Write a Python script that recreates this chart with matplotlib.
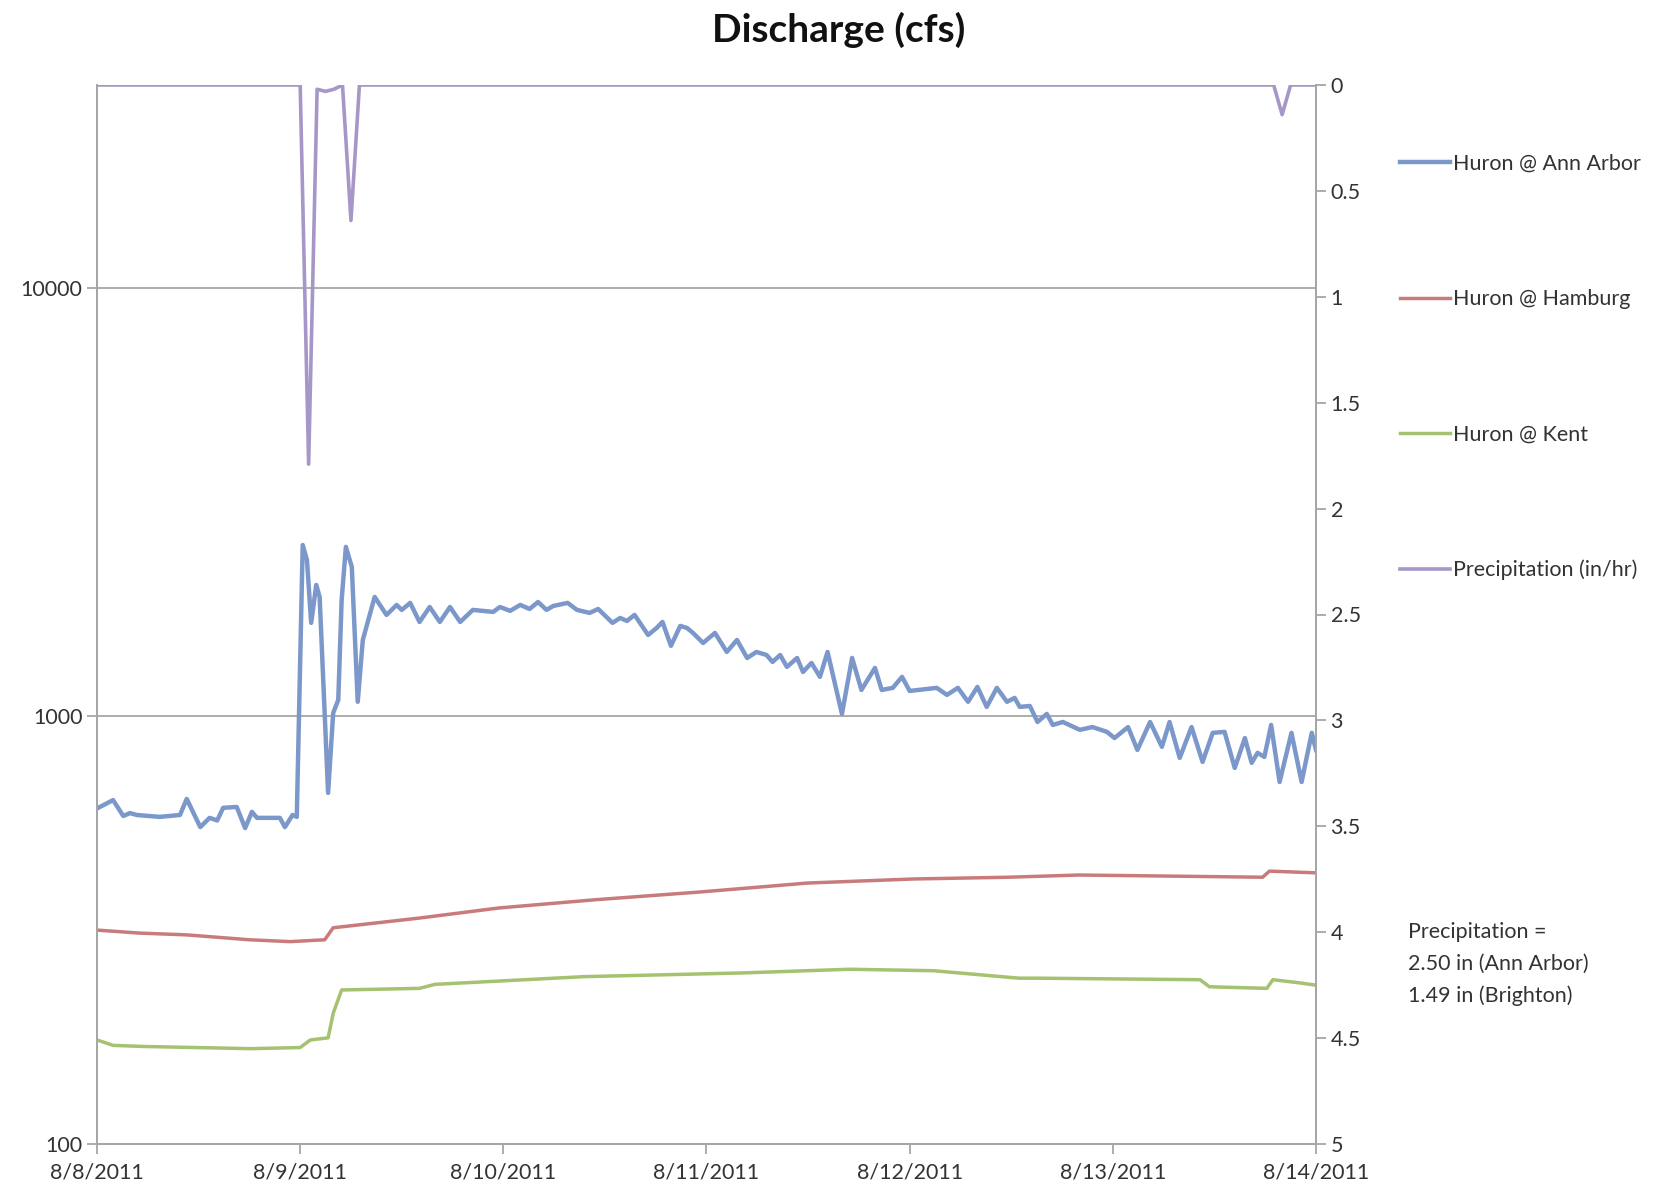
import matplotlib
matplotlib.use("Agg")
import matplotlib.pyplot as plt

plt.rcParams['font.family'] = ['Lato', 'DejaVu Sans']

# hours since 8/8/2011 00:00, discharge in cfs
aa_hours = [0, 1.9, 3.1, 3.9, 4.7, 7.4, 9.8, 10.6, 12.2, 13.3,
            14.2, 14.9, 16.5, 17.5, 18.3, 18.9, 21.6, 22.2, 23.1, 23.6,
            24.3, 24.8, 25.3, 25.9, 26.3, 27.3, 27.9, 28.5, 28.9, 29.4,
            30.1, 30.8, 31.4, 32.8, 34.2, 35.4, 36.0, 37.0, 38.1, 39.3,
            40.5, 41.7, 42.9, 44.4, 46.8, 47.6, 48.8, 50.0, 51.1, 52.1,
            53.1, 53.9, 55.6, 56.7, 58.2, 59.2, 60.9, 61.8, 62.6, 63.5,
            65.1, 66.1, 66.8, 67.8, 68.9, 69.7, 70.4, 71.6, 73.0, 74.4,
            75.6, 76.8, 77.9, 79.1, 79.8, 80.7, 81.5, 82.7, 83.4, 84.4,
            85.4, 86.3, 88.0, 89.2, 90.3, 91.9, 92.7, 94.0, 95.1, 96.0,
            99.2, 100.4, 101.7, 102.9, 104.0, 105.1, 106.3, 107.5, 108.4, 109.0,
            110.2, 111.1, 112.2, 112.9, 114.1, 116.1, 117.6, 119.3, 120.2, 121.8,
            122.9, 124.4, 125.8, 126.7, 127.9, 129.3, 130.6, 131.8, 133.2, 134.4,
            135.6, 136.4, 137.1, 137.9, 138.7, 139.7, 141.1, 142.3, 143.5, 144.0]
aa_cfs = [608, 636, 584, 593, 587, 581, 587, 640, 550, 578,
          570, 610, 613, 547, 597, 578, 578, 550, 587, 581,
          2508, 2315, 1650, 2023, 1897, 661, 1016, 1090, 1866, 2483,
          2229, 1079, 1505, 1897, 1722, 1817, 1769, 1837, 1658, 1797,
          1658, 1797, 1658, 1769, 1750, 1797, 1760, 1817, 1778, 1846,
          1769, 1807, 1837, 1769, 1741, 1778, 1650, 1694, 1667, 1722,
          1546, 1605, 1658, 1458, 1623, 1605, 1563, 1481, 1563, 1411,
          1505, 1366, 1411, 1388, 1337, 1388, 1302, 1366, 1267, 1330,
          1234, 1411, 1011, 1366, 1150, 1295, 1150, 1163, 1234, 1144,
          1163, 1120, 1163, 1079, 1169, 1050, 1163, 1079, 1102, 1050,
          1055, 968, 1011, 953, 968, 928, 942, 918, 888, 942,
          833, 968, 847, 968, 798, 942, 781, 913, 918, 756,
          888, 777, 820, 802, 953, 701, 913, 701, 913, 833]

ham_hours = [0, 5, 10.6, 18, 22.8, 26.9, 27.9, 38, 47.5, 58.8, 71.3, 83.9, 96.4, 107.7, 116, 137.7, 138.5, 144]
ham_cfs = [316, 311, 308, 300, 297, 300, 320, 337, 356, 372, 388, 407, 416, 420, 425, 420, 434, 430]

kent_hours = [0, 1.9, 5.4, 18.1, 24, 25.2, 27.3, 27.9, 28.9, 38.1, 39.9, 57.5,
              76.3, 88.9, 98.8, 108.9, 111, 130.3, 131.4, 138.2, 138.9, 142, 144]
kent_cfs = [175, 170, 169, 167, 168, 175, 177, 202, 229, 231, 236, 246,
            251, 256, 254, 244, 244, 242, 233, 231, 242, 238, 235]

precip_hours = [0, 24, 25, 26, 27, 28, 29, 30, 31, 139, 140, 141, 144]
precip_in = [0, 0, 1.79, 0.02, 0.03, 0.02, 0, 0.64, 0, 0, 0.14, 0, 0]

day_ticks = [0, 24, 48, 72, 96, 120, 144]
day_labels = ['8/8/2011', '8/9/2011', '8/10/2011', '8/11/2011', '8/12/2011', '8/13/2011', '8/14/2011']

c_blue = '#7C98CA'
c_red = '#C97B7B'
c_green = '#A4C270'
c_purple = '#A797C8'
c_axis = '#A6A6A6'
c_text = '#333333'

fig = plt.figure(figsize=(16.65, 11.9), dpi=100)
ax = fig.add_axes([97 / 1665, 1 - 1144 / 1190, (1316 - 97) / 1665, (1144 - 85) / 1190])

l1, = ax.plot(aa_hours, aa_cfs, color=c_blue, lw=3.2, solid_joinstyle='round', label='Huron @ Ann Arbor')
l2, = ax.plot(ham_hours, ham_cfs, color=c_red, lw=2.5, label='Huron @ Hamburg')
l3, = ax.plot(kent_hours, kent_cfs, color=c_green, lw=2.5, label='Huron @ Kent')

ax.set_yscale('log')
ax.set_ylim(100, 10 ** 4.474)
ax.set_xlim(0, 144)
ax.set_yticks([100, 1000, 10000])
ax.set_yticklabels(['100', '1000', '10000'])
ax.minorticks_off()
ax.set_xticks(day_ticks)
ax.set_xticklabels(day_labels)
ax.grid(axis='y', color=c_axis, lw=1.3)
ax.set_axisbelow(True)

ax2 = ax.twinx()
l4, = ax2.plot(precip_hours, precip_in, color=c_purple, lw=2.6, solid_joinstyle='round',
               label='Precipitation (in/hr)')
ax2.set_ylim(5, 0)
ax2.set_yticks([i * 0.5 for i in range(11)])
ax2.set_yticklabels(['%g' % (i * 0.5) for i in range(11)])

for a in (ax, ax2):
    a.spines['top'].set_visible(False)
    for s in ('left', 'right', 'bottom'):
        a.spines[s].set_color(c_axis)
        a.spines[s].set_linewidth(1.3)
    a.tick_params(colors=c_axis, labelcolor=c_text, labelsize=15.5, length=7, width=1.3)
ax.tick_params(axis='x', pad=6)

fig.suptitle('Discharge (cfs)', x=0.504, y=0.99, fontsize=28, fontweight='bold', color='#111111')

fig.legend(handles=[l1, l2, l3, l4], loc='upper left', bbox_to_anchor=(1400 / 1665, 1 - 154 / 1190),
           frameon=False, fontsize=15.5, handlelength=2.3, handletextpad=0.15,
           labelspacing=5.35, borderpad=0, borderaxespad=0, labelcolor=c_text)

fig.text(1408 / 1665, 1 - 922 / 1190,
         'Precipitation =\n2.50 in (Ann Arbor)\n1.49 in (Brighton)',
         fontsize=15.5, color=c_text, va='top', ha='left', linespacing=1.73)

fig.savefig('out.png', dpi=100)
